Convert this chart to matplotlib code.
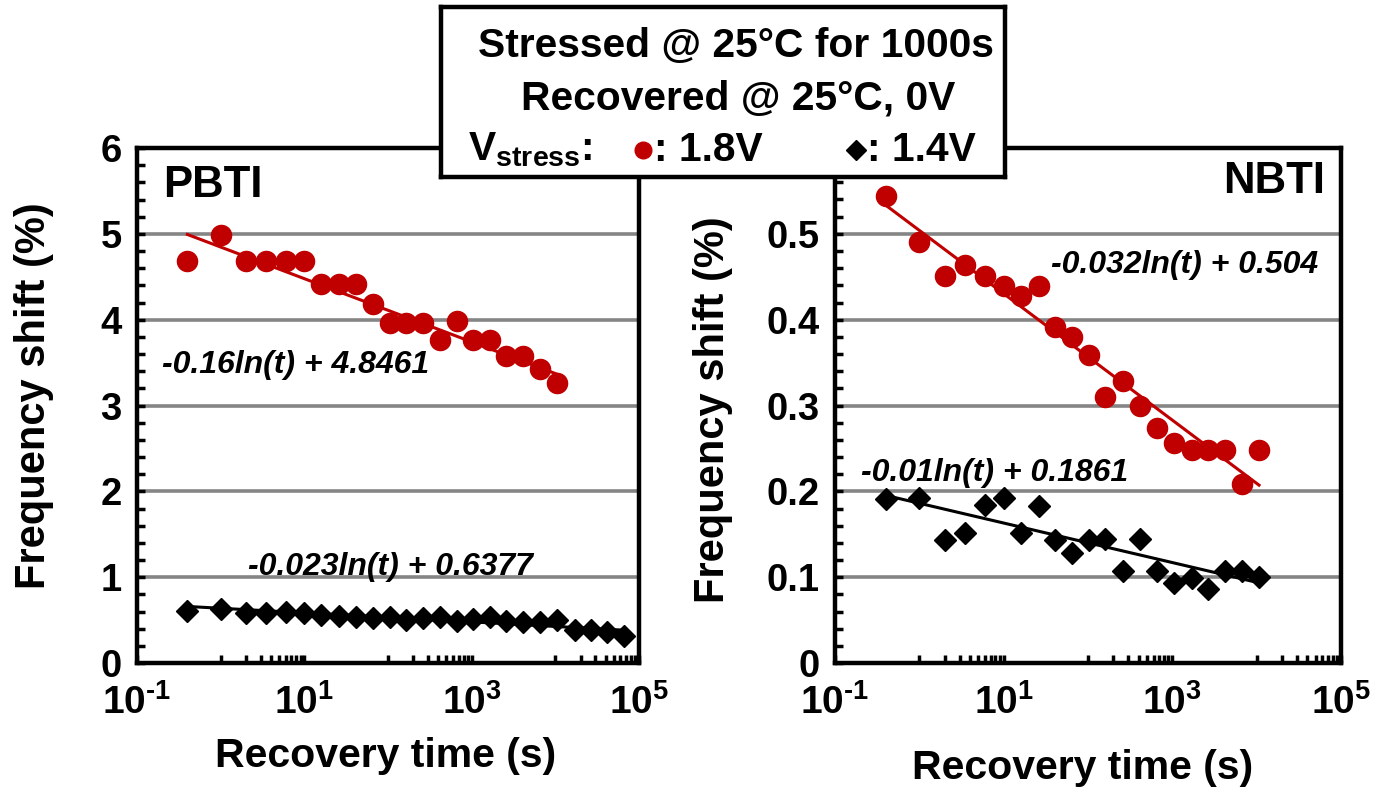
import numpy as np
import matplotlib
matplotlib.use('Agg')
import matplotlib.pyplot as plt
from matplotlib.ticker import FixedLocator, NullFormatter, FixedFormatter

plt.rcParams['font.family'] = ['Liberation Sans', 'DejaVu Sans']
plt.rcParams['font.weight'] = 'bold'
plt.rcParams['mathtext.fontset'] = 'custom'
plt.rcParams['mathtext.rm'] = 'Liberation Sans:bold'
plt.rcParams['mathtext.bf'] = 'Liberation Sans:bold'
plt.rcParams['mathtext.it'] = 'Liberation Sans:bold:italic'
plt.rcParams['mathtext.default'] = 'rm'

# ---------------- data ----------------
# PBTI, Vstress = 1.8 V (red circles)
pbti_t_18 = [0.4, 1.0, 2.0, 3.5, 6, 10, 16, 26, 41, 66, 105, 165, 265, 415, 660,
             1050, 1650, 2600, 4150, 6600, 10400]
pbti_y_18 = [4.68, 4.99, 4.68, 4.68, 4.68, 4.68, 4.41, 4.42, 4.42, 4.18, 3.96, 3.96,
             3.96, 3.76, 3.98, 3.76, 3.76, 3.58, 3.58, 3.42, 3.26]
# PBTI, Vstress = 1.4 V (black diamonds)
pbti_t_14 = [0.4, 1.0, 2.0, 3.5, 6, 10, 16, 26, 41, 66, 105, 165, 265, 415, 660,
             1050, 1650, 2600, 4150, 6600, 10400, 17000, 27000, 42000, 67000]
pbti_y_14 = [0.61, 0.63, 0.58, 0.58, 0.59, 0.58, 0.56, 0.55, 0.54, 0.52, 0.54, 0.50,
             0.52, 0.54, 0.49, 0.51, 0.54, 0.49, 0.48, 0.48, 0.50, 0.385, 0.385,
             0.366, 0.32]
# NBTI, Vstress = 1.8 V
nbti_t_18 = [0.4, 1.0, 2.0, 3.5, 6, 10, 16, 26, 41, 64, 102, 161, 261, 413, 655,
             1040, 1690, 2680, 4250, 6730, 10660]
nbti_y_18 = [0.544, 0.490, 0.451, 0.464, 0.451, 0.439, 0.427, 0.439, 0.392, 0.380,
             0.359, 0.310, 0.329, 0.300, 0.274, 0.256, 0.248, 0.248, 0.248, 0.208,
             0.248]
# NBTI, Vstress = 1.4 V
nbti_t_14 = [0.4, 1.0, 2.0, 3.5, 6, 10, 16, 26, 41, 64, 102, 161, 261, 413, 655,
             1040, 1690, 2680, 4250, 6730, 10660]
nbti_y_14 = [0.191, 0.192, 0.143, 0.151, 0.184, 0.192, 0.151, 0.183, 0.143, 0.128,
             0.143, 0.144, 0.107, 0.144, 0.107, 0.093, 0.099, 0.086, 0.107, 0.107,
             0.100]

# logarithmic trendlines  y = a*ln(t) + b
fit_pbti_18 = (-0.16, 4.8461)
fit_pbti_14 = (-0.023, 0.6377)
fit_nbti_18 = (-0.032, 0.504)
fit_nbti_14 = (-0.01, 0.1861)
eq_pbti_18 = "-0.16ln(t) + 4.8461"
eq_pbti_14 = "-0.023ln(t) + 0.6377"
eq_nbti_18 = "-0.032ln(t) + 0.504"
eq_nbti_14 = "-0.01ln(t) + 0.1861"

x_major = [0.1, 10, 1000, 1e5]
x_major_labels = ["$10^{\u2010" + "1}$", r"$10^{1}$", r"$10^{3}$", r"$10^{5}$"]
pbti_yticks = [0, 1, 2, 3, 4, 5, 6]
pbti_ylabels = ["0", "1", "2", "3", "4", "5", "6"]
nbti_yticks = [0, 0.1, 0.2, 0.3, 0.4, 0.5, 0.6]
nbti_ylabels = ["0", "0.1", "0.2", "0.3", "0.4", "0.5", ""]

RED = "#C00000"
GRID = "#858585"

W, H = 1373, 788
fig = plt.figure(figsize=(W / 100, H / 100), dpi=100)


def px_axes(x0, y0, x1, y1, **kw):
    return fig.add_axes([x0 / W, 1 - y1 / H, (x1 - x0) / W, (y1 - y0) / H], **kw)


ax1 = px_axes(137, 148, 639, 663)
ax2 = px_axes(835, 148, 1341, 663)

x_minor = [k * 10.0 ** e for e in (0, 2, 4) for k in range(1, 10)]


def style(ax, yticks, ylabels, ymax, yminor_step):
    ax.set_xscale('log')
    ax.set_xlim(0.1, 1e5)
    ax.set_ylim(0, ymax)
    ax.xaxis.set_major_locator(FixedLocator(x_major))
    ax.xaxis.set_major_formatter(FixedFormatter(x_major_labels))
    ax.xaxis.set_minor_locator(FixedLocator(x_minor))
    ax.xaxis.set_minor_formatter(NullFormatter())
    ax.yaxis.set_major_locator(FixedLocator(yticks))
    ax.yaxis.set_major_formatter(FixedFormatter(ylabels))
    ax.yaxis.set_minor_locator(FixedLocator(np.arange(0, ymax + 1e-9, yminor_step)))
    ax.tick_params(which='both', direction='in', length=6, width=2.5,
                   top=False, right=False)
    ax.tick_params(axis='y', which='major', labelsize=27.5, pad=11)
    ax.tick_params(axis='x', which='major', labelsize=28, pad=15)
    for s in ax.spines.values():
        s.set_linewidth(3.2)
    ax.grid(axis='y', which='major', color=GRID, linewidth=2.6)
    ax.set_axisbelow(True)


style(ax1, pbti_yticks, pbti_ylabels, 6, 0.2)
style(ax2, nbti_yticks, nbti_ylabels, 0.6, 0.02)


def trend(ax, t, fit, color):
    tt = np.geomspace(min(t), max(t), 200)
    ax.plot(tt, fit[0] * np.log(tt) + fit[1], color=color, lw=2.2, zorder=2)


EQ = dict(fontsize=23, style='italic', fontweight='bold')

# PBTI
trend(ax1, pbti_t_18, fit_pbti_18, RED)
trend(ax1, pbti_t_14, fit_pbti_14, 'black')
ax1.plot(pbti_t_18, pbti_y_18, 'o', color=RED, ms=14.5, mec=RED, zorder=3)
ax1.plot(pbti_t_14, pbti_y_14, 'D', color='black', ms=11, zorder=3)
ax1.text(0.2, 3.38, eq_pbti_18, **EQ)
ax1.text(2.1, 1.03, eq_pbti_14, **EQ)
ax1.text(0.052, 0.905, "PBTI", transform=ax1.transAxes, fontsize=31.5,
         fontweight='bold', va='baseline')

# NBTI
trend(ax2, nbti_t_18, fit_nbti_18, RED)
trend(ax2, nbti_t_14, fit_nbti_14, 'black')
ax2.plot(nbti_t_18, nbti_y_18, 'o', color=RED, ms=14.5, mec=RED, zorder=3)
ax2.plot(nbti_t_14, nbti_y_14, 'D', color='black', ms=11, zorder=3)
ax2.text(36, 0.454, eq_nbti_18, **EQ)
ax2.text(0.205, 0.212, eq_nbti_14, **EQ)
ax2.text(0.968, 0.913, "NBTI", transform=ax2.transAxes, fontsize=31.5,
         fontweight='bold', va='baseline', ha='right')

# axis labels
fig.text(386 / W, 1 - 756 / H, "Recovery time (s)", fontsize=29.5, ha='center',
         va='center', fontweight='bold')
fig.text(1083 / W, 1 - 768 / H, "Recovery time (s)", fontsize=29.5, ha='center',
         va='center', fontweight='bold')
fig.text(34 / W, 1 - 396 / H, "Frequency shift (%)", fontsize=30, ha='center',
         va='center', rotation=90, fontweight='bold')
fig.text(713 / W, 1 - 410 / H, "Frequency shift (%)", fontsize=30, ha='center',
         va='center', rotation=90, fontweight='bold')

# legend / condition box
lg = px_axes(441, 7, 1005, 177)
lg.set_zorder(10)
lg.set_xlim(441, 1005)
lg.set_ylim(177, 7)
lg.set_xticks([])
lg.set_yticks([])
lg.set_facecolor('white')
for s in lg.spines.values():
    s.set_linewidth(3.2)
LT = dict(fontsize=29.3, fontweight='bold', va='center')
lg.text(736, 46, "Stressed @ 25°C for 1000s", ha='center', **LT)
lg.text(738, 98, "Recovered @ 25°C, 0V", ha='center', **LT)
lg.text(468, 150, r"V$_{\mathregular{stress}}$:", ha='left', **LT)
lg.plot([643], [150], 'o', color=RED, ms=12)
lg.text(654, 150, ": 1.8V", ha='left', **LT)
lg.plot([856], [150], 'D', color='black', ms=10.5)
lg.text(867, 150, ": 1.4V", ha='left', **LT)

fig.savefig('out.png', dpi=100)
